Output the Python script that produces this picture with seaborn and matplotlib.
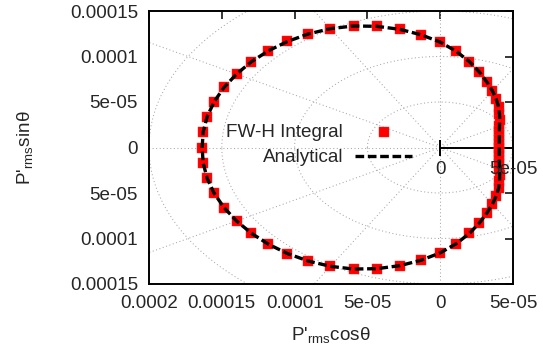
import numpy as np
import pandas as pd
import matplotlib
matplotlib.use("Agg")
import matplotlib.pyplot as plt
import seaborn as sns

# ---------------- data ----------------
theta_deg = [0, 6, 12, 18, 24, 30, 36, 42, 48, 54, 60, 66, 72, 78, 84, 90,
             96, 102, 108, 114, 120, 126, 132, 138, 144, 150, 156, 162, 168, 174, 180,
             186, 192, 198, 204, 210, 216, 222, 228, 234, 240, 246, 252, 258, 264, 270,
             276, 282, 288, 294, 300, 306, 312, 318, 324, 330, 336, 342, 348, 354]

# FW-H integral: P'rms (Pa) at each angle
p_fwh = [1.635e-4, 1.637e-4, 1.636e-4, 1.632e-4, 1.625e-4, 1.615e-4, 1.603e-4, 1.588e-4,
         1.568e-4, 1.542e-4, 1.508e-4, 1.462e-4, 1.400e-4, 1.327e-4, 1.245e-4, 1.158e-4,
         1.062e-4, 0.965e-4, 0.872e-4, 0.788e-4, 0.718e-4, 0.655e-4, 0.600e-4, 0.548e-4,
         0.505e-4, 0.470e-4, 0.445e-4, 0.427e-4, 0.415e-4, 0.408e-4, 0.406e-4,
         0.408e-4, 0.415e-4, 0.427e-4, 0.445e-4, 0.470e-4, 0.505e-4, 0.548e-4, 0.600e-4,
         0.655e-4, 0.718e-4, 0.788e-4, 0.872e-4, 0.965e-4, 1.062e-4, 1.158e-4,
         1.245e-4, 1.327e-4, 1.400e-4, 1.462e-4, 1.508e-4, 1.542e-4, 1.568e-4, 1.588e-4,
         1.603e-4, 1.615e-4, 1.625e-4, 1.632e-4, 1.636e-4, 1.637e-4]

# Analytical solution at the same angles
p_analytical = [1.635e-4, 1.637e-4, 1.636e-4, 1.632e-4, 1.625e-4, 1.615e-4, 1.603e-4, 1.588e-4,
                1.568e-4, 1.542e-4, 1.508e-4, 1.462e-4, 1.400e-4, 1.327e-4, 1.245e-4, 1.158e-4,
                1.062e-4, 0.965e-4, 0.872e-4, 0.788e-4, 0.718e-4, 0.655e-4, 0.600e-4, 0.548e-4,
                0.505e-4, 0.470e-4, 0.445e-4, 0.427e-4, 0.415e-4, 0.408e-4, 0.406e-4,
                0.408e-4, 0.415e-4, 0.427e-4, 0.445e-4, 0.470e-4, 0.505e-4, 0.548e-4, 0.600e-4,
                0.655e-4, 0.718e-4, 0.788e-4, 0.872e-4, 0.965e-4, 1.062e-4, 1.158e-4,
                1.245e-4, 1.327e-4, 1.400e-4, 1.462e-4, 1.508e-4, 1.542e-4, 1.568e-4, 1.588e-4,
                1.603e-4, 1.615e-4, 1.625e-4, 1.632e-4, 1.636e-4, 1.637e-4]

series_labels = ["FW-H Integral", "Analytical"]

x_ticks = [2e-4, 1.5e-4, 1e-4, 5e-5, 0.0, -5e-5]
x_tick_labels = ["0.0002", "0.00015", "0.0001", "5e-05", "0", "5e-05"]
y_ticks = [1.5e-4, 1e-4, 5e-5, 0.0, -5e-5, -1e-4, -1.5e-4]
y_tick_labels = ["0.00015", "0.0001", "5e-05", "0", "5e-05", "0.0001", "0.00015"]
r_axis_ticks = [0.0, 5e-5]
r_axis_labels = ["0", "5e-05"]

grid_radii = [5e-5, 1e-4, 1.5e-4, 2e-4, 2.5e-4]
grid_angles = [0, 30, 60, 90, 120, 150, 180, 210, 240, 270, 300, 330]

# ---------------- styling ----------------
sns.set_style("white")
plt.rcParams["font.family"] = ["Liberation Sans", "DejaVu Sans"]
plt.rcParams["mathtext.fontset"] = "custom"
plt.rcParams["mathtext.rm"] = "Liberation Sans"
plt.rcParams["mathtext.it"] = "Liberation Sans"
FS = 13.6

fig = plt.figure(figsize=(5.43, 3.5), dpi=100)
W, H = 543, 350
ax = fig.add_axes([149 / W, (H - 284) / H, 364 / W, 273 / H])

# polar grid (dotted grey)
grid_kw = dict(color="#a8a8a8", lw=0.75, ls=(0, (1, 2.4)), zorder=1)
phi = np.linspace(0, 2 * np.pi, 721)
for rg in grid_radii:
    ax.plot(rg * np.cos(phi), rg * np.sin(phi), **grid_kw)
for ag in grid_angles:
    a = np.deg2rad(ag)
    ax.plot([0, 3e-4 * np.cos(a)], [0, 3e-4 * np.sin(a)], **grid_kw)

# data frames
th = np.deg2rad(np.array(theta_deg + [theta_deg[0]]))
rf = np.array(p_fwh + [p_fwh[0]])
ra = np.array(p_analytical + [p_analytical[0]])
df_fwh = pd.DataFrame({"x": rf[:-1] * np.cos(th[:-1]), "y": rf[:-1] * np.sin(th[:-1])})
df_an = pd.DataFrame({"x": ra * np.cos(th), "y": ra * np.sin(th), "order": np.arange(len(ra))})

sns.scatterplot(data=df_fwh, x="x", y="y", marker="s", s=46, color="#ff0000",
                edgecolor="#ff2020", linewidth=0.3, ax=ax, zorder=3,
                label=series_labels[0])
sns.lineplot(data=df_an, x="x", y="y", sort=False, estimator=None, color="black",
             lw=2.4, ax=ax, zorder=4, label=series_labels[1])
ax.lines[-1].set_linestyle((0, (2.6, 1.1)))

# r-axis (solid line from origin to the right border) with its ticks/labels
ax.plot([r_axis_ticks[0], -r_axis_ticks[-1]], [0, 0], color="black", lw=1.4, zorder=2)
ax.plot([0], [0], marker="|", ms=11.5, mew=1.4, color="black", zorder=2)
for rv, lab in zip(r_axis_ticks, r_axis_labels):
    ax.annotate(lab, xy=(-rv, 0), xytext=(0, -15.5), textcoords="offset points",
                ha="center", va="center", fontsize=FS, zorder=5)

ax.set_xlim(2e-4, -5e-5)
ax.set_ylim(-1.5e-4, 1.5e-4)
ax.set_xticks(x_ticks, x_tick_labels)
ax.set_yticks(y_ticks, y_tick_labels)
ax.tick_params(axis="both", which="major", direction="in", length=5.8, width=1.1,
               labelsize=FS, top=True, right=True, pad=8, color="black")
for sp in ax.spines.values():
    sp.set_visible(True)
    sp.set_linewidth(1.4)
    sp.set_color("black")

ax.set_xlabel("P'$_{\\rm rms}$cosθ", fontsize=FS, labelpad=9)
ax.set_ylabel("P'$_{\\rm rms}$sinθ", fontsize=FS, va="center")
ax.yaxis.set_label_coords((25 - 149) / 364, 0.5)

leg = ax.legend(loc="upper right", bbox_to_anchor=(412 / W, (H - 124) / H),
                bbox_transform=fig.transFigure, frameon=False, markerfirst=False,
                fontsize=FS, handlelength=3.0, handletextpad=0.65, borderpad=0,
                borderaxespad=0, labelspacing=0.42)

fig.savefig("out.png", dpi=100)
